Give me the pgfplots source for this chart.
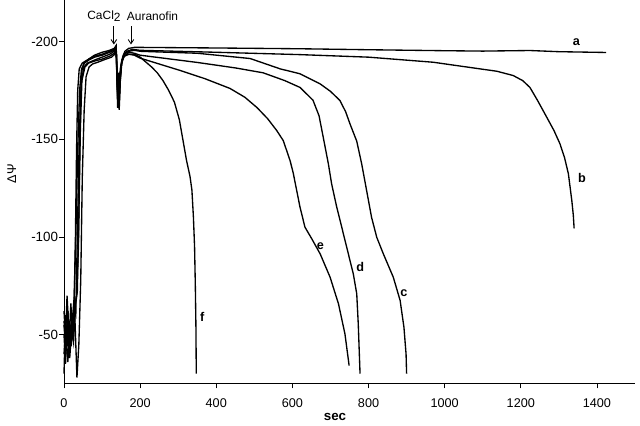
\documentclass[border=0pt]{standalone}
\usepackage{fontspec}
\setmainfont{Liberation Sans}
\usepackage{pgfplots}
\pgfplotsset{compat=1.18}
\usetikzlibrary{arrows.meta}

\begin{document}
\begin{tikzpicture}
\begin{axis}[
    scale only axis, width=14.275cm, height=9.575cm,
    xmin=0, xmax=1500, ymin=-221, ymax=-25, y dir=reverse,
    axis x line=bottom, axis y line=left,
    axis line style={-, line width=0.7pt},
    xtick={0,200,...,1400}, ytick={-200,-150,-100,-50},
    yticklabels={-200,-150,-100,-50},
    scaled x ticks=false,
    /pgf/number format/1000 sep={},
    /pgf/number format/assume math mode=true,
    tick align=outside, major tick length=0.125cm,
    tick style={black, line width=0.6pt},
    xticklabel style={font=\fontsize{9}{10}\selectfont, yshift=-0.12cm},
    yticklabel style={font=\fontsize{9.5}{10}\selectfont, xshift=0.1cm},
    clip=false,
    curve/.style={black, solid, line width=0.95pt, no marks},
]
% a
\addplot[curve] coordinates {(0,-30) (4,-60) (8,-44) (12,-56) (16,-42) (20,-58) (24,-50) (28,-64) (33,-70) (38,-95) (41,-140) (44,-172) (47,-185) (52,-189) (65,-191) (80,-193) (100,-194.5) (120,-195.5) (132,-196.5) (137,-198) (139,-186) (141,-172) (143,-180) (145,-168) (147,-178) (150,-187) (154,-192) (160,-195) (170,-196.5) (185,-197) (200,-197) (400,-196.7) (620,-196.3) (800,-195.8) (1000,-195.3) (1100,-195.1) (1224,-195.4) (1300,-194.8) (1424,-194.4)};
% b
\addplot[curve] coordinates {(0,-55) (5,-40) (10,-62) (14,-48) (18,-66) (22,-52) (26,-60) (30,-100) (33,-145) (36,-175) (40,-186) (48,-189) (65,-191) (80,-192.5) (100,-193.5) (120,-195) (132,-196) (137,-197.5) (139,-180) (141,-166) (143,-175) (145,-165) (148,-180) (151,-189) (156,-193) (165,-195) (180,-196) (200,-195.5) (400,-194.5) (620,-193.3) (800,-192) (970,-189.4) (1093,-186) (1137,-184.8) (1180,-182.6) (1205,-180) (1224,-176.5) (1245,-169.5) (1268,-161.3) (1287,-154.5) (1303,-147.6) (1315,-140.5) (1325,-132.3) (1334,-118.6) (1338,-111) (1340,-104.4)};
% c
\addplot[curve] coordinates {(0,-40) (5,-54) (10,-36) (15,-50) (19,-44) (23,-60) (27,-70) (31,-100) (36,-145) (41,-175) (46,-186) (54,-189) (65,-190.5) (80,-192) (100,-193) (120,-194.5) (132,-195.5) (137,-197) (139,-182) (141,-170) (143,-178) (145,-172) (148,-183) (152,-190) (158,-193.5) (170,-195) (185,-195.5) (200,-195) (350,-194) (489,-191.3) (568,-186) (620,-183.5) (673,-178.3) (700,-174.5) (725,-169.8) (740,-164) (751,-158) (769,-149) (782,-137.4) (795,-123.7) (808,-110) (821.6,-99.8) (839,-91.3) (865,-79.4) (883,-67.5) (893,-53.8) (898.6,-40) (900,-30)};
% d
\addplot[curve] coordinates {(0,-50) (4,-35) (9,-58) (13,-42) (17,-55) (21,-47) (26,-63) (31,-60) (35,-100) (40,-150) (45,-178) (52,-187) (62,-189) (80,-190.5) (100,-192) (120,-193.5) (132,-195) (137,-196.5) (139,-184) (141,-173) (143,-180) (145,-170) (148,-181) (152,-189) (158,-192.5) (170,-194.5) (185,-194) (200,-193) (350,-189.3) (450,-186.5) (523,-184) (580,-180) (620,-176.5) (654,-170) (670,-162) (681,-151) (694.5,-137.4) (703,-127.2) (716.5,-115.2) (729.6,-105) (747,-91.3) (760,-81.1) (769,-70.9) (773,-55.5) (777.7,-30)};
% e
\addplot[curve] coordinates {(0,-57) (5,-45) (10,-62) (15,-38) (20,-52) (25,-46) (30,-65) (35,-72) (39,-110) (43,-155) (47,-180) (55,-187) (65,-189) (80,-190) (100,-191) (120,-192.5) (132,-194) (137,-196) (139,-185) (141,-176) (143,-182) (145,-175) (148,-184) (152,-190) (158,-192.5) (170,-193.5) (185,-193) (200,-191.5) (250,-188.5) (305,-185.2) (370,-181) (436,-176) (475,-171.5) (507,-166.2) (535,-160.5) (559,-154.4) (576,-149.3) (594,-139) (602.6,-132.3) (620,-115.2) (633,-105) (651,-99) (673,-91.3) (699,-79.4) (721,-65.8) (738,-50.4) (749,-34.2)};
% f
\addplot[curve] coordinates {(0,-62) (4,-48) (8,-70) (12,-55) (16,-44) (20,-60) (24,-50) (28,-62) (34,-28) (39,-45) (44,-78) (48,-130) (53,-165) (58,-182) (66,-187) (75,-188.5) (90,-189.5) (110,-191) (125,-192) (133,-193.5) (137,-195.5) (139,-186) (141,-178) (143,-184) (145,-178) (148,-186) (152,-190.5) (158,-192.5) (170,-193.5) (185,-193.5) (200,-192) (215,-189.5) (230,-187) (245,-184) (260,-180) (275,-175) (290,-169) (303,-160) (313,-149) (322,-139) (331,-131) (336,-124) (340,-110) (343,-95) (345,-75) (346.5,-55) (347.5,-30)};

\node[font=\fontsize{9}{10}\selectfont\bfseries] at (axis cs:1346,-199.9) {a};
\node[font=\fontsize{9}{10}\selectfont\bfseries] at (axis cs:1361,-130.4) {b};
\node[font=\fontsize{9}{10}\selectfont\bfseries] at (axis cs:893,-71) {c};
\node[font=\fontsize{9}{10}\selectfont\bfseries] at (axis cs:778,-84.8) {d};
\node[font=\fontsize{9}{10}\selectfont\bfseries] at (axis cs:673.6,-95.1) {e};
\node[font=\fontsize{9}{10}\selectfont\bfseries] at (axis cs:363,-58.9) {f};

\node[font=\fontsize{8.5}{10}\selectfont] at (axis cs:105,-212.8) {CaCl\raisebox{-0.35ex}{2}};
\node[font=\fontsize{8.5}{10}\selectfont] at (axis cs:232.5,-212.8) {Auranofin};
\draw[line width=0.6pt, -{Straight Barb[length=3pt,width=4pt]}] (axis cs:131,-207.7) -- (axis cs:131,-198.5);
\draw[line width=0.6pt, -{Straight Barb[length=3pt,width=4pt]}] (axis cs:176,-207.7) -- (axis cs:176,-198.5);

\node[rotate=90, font=\fontsize{9}{10}\selectfont] at (axis cs:-137,-132.4) {ΔΨ};
\node[font=\fontsize{9.5}{10}\selectfont\bfseries] at (axis cs:712,-8) {sec};
\end{axis}
\path (-1.6cm,-1.025cm) rectangle (14.4cm,9.575cm);
\end{tikzpicture}
\end{document}
